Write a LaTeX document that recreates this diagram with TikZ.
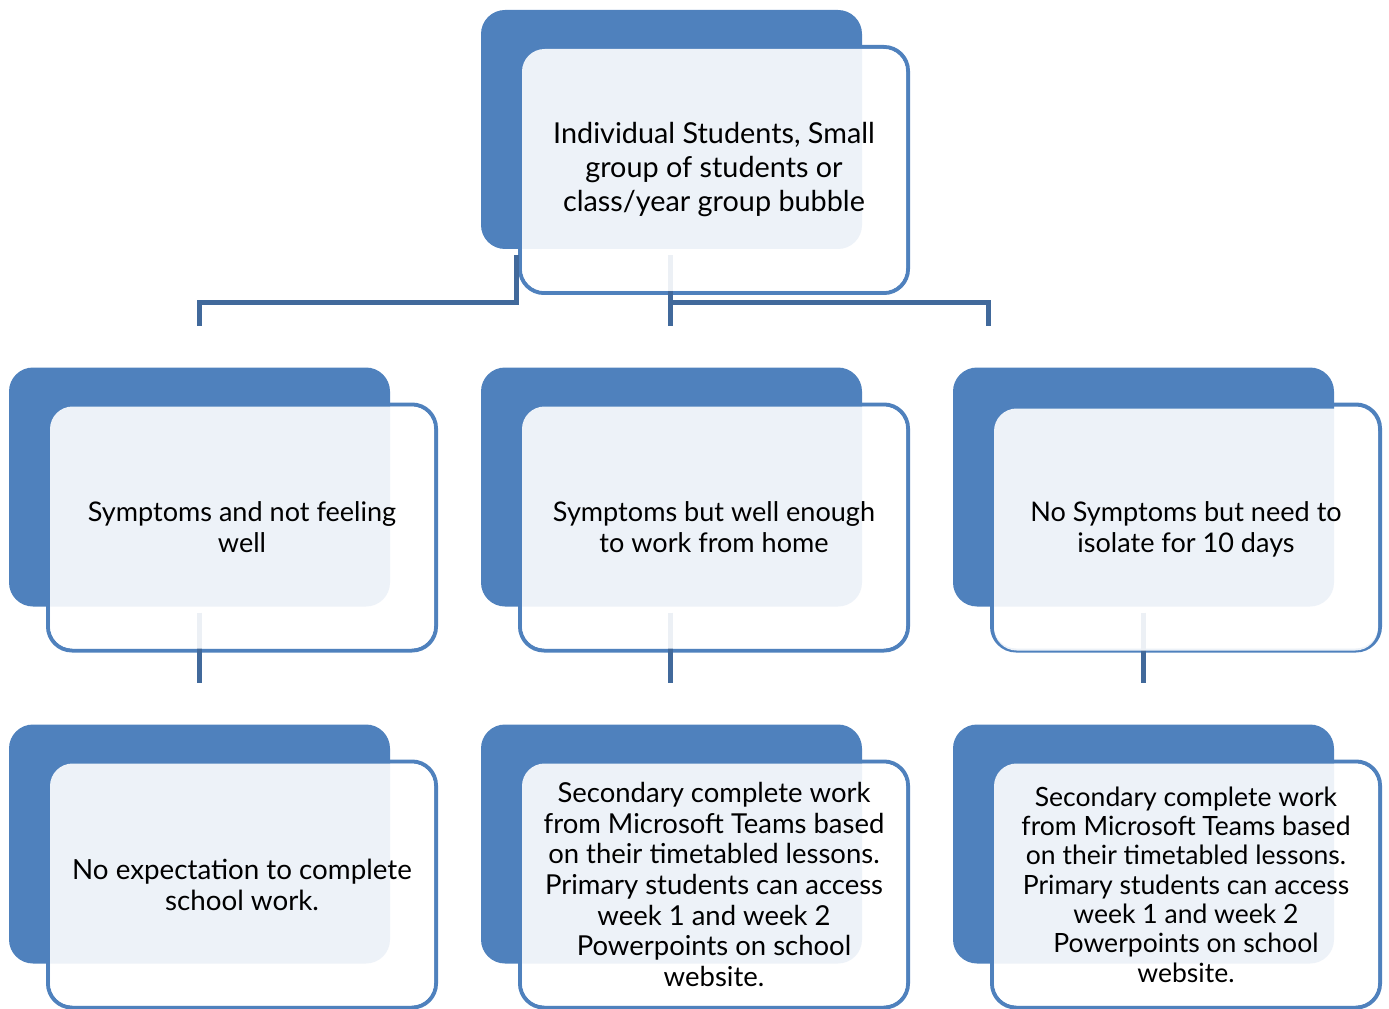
\documentclass[tikz,border=0pt]{standalone}
\usepackage{fontspec}
\setmainfont{Lato}
\usepackage{xcolor}
\usetikzlibrary{positioning,calc}
\definecolor{accent}{HTML}{4F81BD}
\definecolor{linkblue}{HTML}{41699B}

\begin{document}
\begin{tikzpicture}[
    x=0.75pt, y=-0.75pt,
    frame/.style={rectangle, draw=accent, fill=white, line width=3pt, rounded corners=18pt, minimum width=291pt, minimum height=184.5pt, inner sep=0pt},
    back/.style={rectangle, fill=accent, rounded corners=18pt, minimum width=285.75pt, minimum height=179.25pt, inner sep=0pt},
    card/.style={rectangle, fill=white, fill opacity=0.9, text opacity=1, rounded corners=17pt, minimum width=288pt, minimum height=181.5pt, inner sep=0pt, align=center, font={\fontsize{20.3}{23.25}\selectfont}},
    link/.style={draw=linkblue, line width=3.75pt}
]
\useasboundingbox (0,0) rectangle (1389,1009);

% outlines of the cards
\node[frame] (groupframe) at (714,170) {};
\node[frame] (unwellframe) at (242,527.5) {};
\node[frame] (wellframe) at (714,527.5) {};
\node[frame] (isolateframe) at (1186,527.5) {};
\node[frame] (noworkframe) at (242,884.5) {};
\node[frame] (teamsframe) at (714,884.5) {};
\node[frame] (teams2frame) at (1186,884.5) {};

% blue shapes behind
\node[back] (group) at ([shift={(-42.5,-40.5)}]groupframe.center) {};
\node[back] (unwell) at ([shift={(-42.5,-40.5)}]unwellframe.center) {};
\node[back] (well) at ([shift={(-42.5,-40.5)}]wellframe.center) {};
\node[back] (isolate) at ([shift={(-42.5,-40.5)}]isolateframe.center) {};
\node[back] (nowork) at ([shift={(-42.5,-40.5)}]noworkframe.center) {};
\node[back] (teams) at ([shift={(-42.5,-40.5)}]teamsframe.center) {};
\node[back] (teams2) at ([shift={(-42.5,-40.5)}]teams2frame.center) {};

% connectors
\draw[link] ([shift={(-155.5,6)}]group.south) -- ++(0,47) -| ([shift={(0,-41)}]unwell.north);
\draw[link] ([shift={(-1.5,6)}]group.south) -- ([shift={(-1.5,-41)}]well.north);
\draw[link] ([shift={(-1.5,53)}]group.south) -| ([shift={(-155.5,-41)}]isolate.north);
\draw[link] ([shift={(0,6)}]unwell.south) -- ([shift={(0,-41)}]nowork.north);
\draw[link] ([shift={(-1.5,6)}]well.south) -- ([shift={(-1.5,-41)}]teams.north);
\draw[link] ([shift={(0,6)}]isolate.south) -- ([shift={(0,-41)}]teams2.north);

% texts
\node[card, font={\fontsize{21.6}{25.5}\selectfont}] (groupbox) at (groupframe.center) {Individual Students, Small\\group of students or\\class/year group bubble};
\node[card] (unwellbox) at (unwellframe.center) {Symptoms and not feeling\\well};
\node[card] (wellbox) at (wellframe.center) {Symptoms but well enough\\to work from home};
\node[card] (isolatebox) at ([yshift=-1.5pt]isolateframe.center) {No Symptoms but need to\\isolate for 10 days};
\node[card, font={\fontsize{20.8}{23.25}\selectfont}] (noworkbox) at (noworkframe.center) {No expectation to complete\\school work.};
\node[card, font={\fontsize{20.6}{22.9}\selectfont}] (teamsbox) at (teamsframe.center) {Secondary complete work\\from Microsoft Teams based\\on their timetabled lessons.\\Primary students can access\\week 1 and week 2\\Powerpoints on school\\website.};
\node[card, font={\fontsize{19.9}{22}\selectfont}] (teams2box) at (teams2frame.center) {Secondary complete work\\from Microsoft Teams based\\on their timetabled lessons.\\Primary students can access\\week 1 and week 2\\Powerpoints on school\\website.};
\end{tikzpicture}
\end{document}
